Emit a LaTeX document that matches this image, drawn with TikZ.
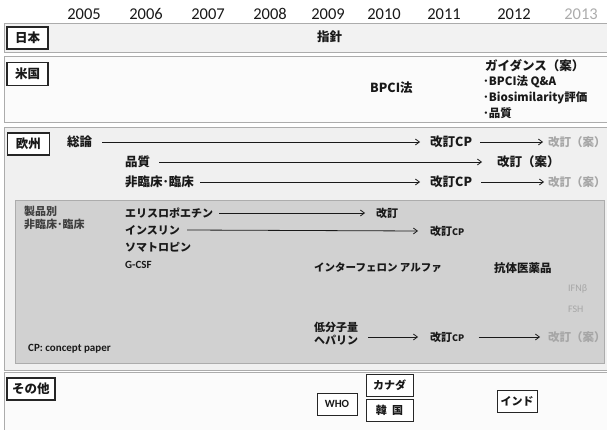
\documentclass[tikz,border=0pt]{standalone}
\usepackage{fontspec}
\setmainfont{Carlito}
\newfontfamily\jp{Noto Sans CJK JP}
\usetikzlibrary{arrows.meta}
\begin{document}
\begin{tikzpicture}[x=1pt,y=-1pt,
  band/.style={draw=gray!65, line width=0.9pt},
  yr/.style={font=\fontsize{16.5}{18}\selectfont, text=black!90, inner sep=0pt},
  jt/.style={font=\jp\bfseries\fontsize{12.5}{14}\selectfont, anchor=west, inner sep=0pt, text=black!90},
  it/.style={font=\jp\bfseries\fontsize{11}{13}\selectfont, anchor=west, inner sep=0pt, text=black!90},
  gt/.style={text=gray!70},
  lbl/.style={draw=black!85, line width=1.2pt, fill=white, inner sep=0pt,
    font=\jp\bfseries\fontsize{12.5}{14}\selectfont, text=black!90},
  arr/.style={-{Straight Barb[length=4pt,width=6pt]}, line width=0.8pt, black!90},
]
\useasboundingbox (0,0) rectangle (607,430);
\clip (0,0) rectangle (607,430);
% years
\node[yr] (y05) at (84,14) {2005};
\node[yr] (y06) at (146,14) {2006};
\node[yr] (y07) at (208,14) {2007};
\node[yr] (y08) at (270,14) {2008};
\node[yr] (y09) at (328,14) {2009};
\node[yr] (y10) at (384,14) {2010};
\node[yr] (y11) at (444,14) {2011};
\node[yr] (y12) at (514,14) {2012};
\node[yr, text=gray!65] (y13) at (581,14) {2013};
% bands
\draw[band, fill=gray!10] (4,23) rectangle (615,52);
\draw[band, fill=gray!3] (4,56) rectangle (615,122);
\draw[band, fill=gray!12] (4,127) rectangle (615,370);
\draw[band, fill=gray!36] (15,200) rectangle (604,363);
\draw[band, fill=gray!3] (4,372) rectangle (615,440);
% Japan
\node[lbl, minimum width=41pt, minimum height=22pt] (jp) at (27.5,38) {日本};
\node[jt] (shishin) at (317,37) {指針};
% US
\node[lbl, minimum width=41pt, minimum height=23pt] (us) at (27.5,74) {米国};
\node[jt] (bpci) at (370,88) {BPCI法};
\node[jt] (guid) at (485,66) {ガイダンス（案）};
\node[jt, font=\jp\bfseries\fontsize{11.5}{13}\selectfont] (g1) at (483,82) {･BPCI法 Q\&A};
\node[jt, font=\jp\bfseries\fontsize{11.5}{13}\selectfont] (g2) at (483,98) {･Biosimilarity評価};
\node[jt, font=\jp\bfseries\fontsize{11.5}{13}\selectfont] (g3) at (483,113) {･品質};
% Europe
\node[lbl, minimum width=42pt, minimum height=22pt] (eu) at (28.5,144) {欧州};
\node[jt] (soron) at (67,142) {総論};
\node[jt] (cp1) at (430,142) {改訂CP};
\node[jt, gt, font=\jp\bfseries\fontsize{11.5}{13}\selectfont] (an1) at (548,142) {改訂（案）};
\draw[arr] ([xshift=10pt]soron.east) -- ([xshift=-10pt]cp1.west);
\draw[arr] ([xshift=8pt]cp1.east) -- ([xshift=-5pt]an1.west);
\node[jt] (hin) at (125,162) {品質};
\node[jt] (an2) at (497,162) {改訂（案）};
\draw[arr] ([xshift=9pt]hin.east) -- ([xshift=-15pt]an2.west);
\node[jt] (rin) at (125,182) {非臨床･臨床};
\node[jt] (cp3) at (430,182) {改訂CP};
\node[jt, gt, font=\jp\bfseries\fontsize{11.5}{13}\selectfont] (an3) at (548,182) {改訂（案）};
\draw[arr] ([xshift=6pt]rin.east) -- ([xshift=-10pt]cp3.west);
\draw[arr] ([xshift=9pt]cp3.east) -- ([xshift=-4pt]an3.west);
% product-specific
\node[it, font=\jp\bfseries\fontsize{11}{13}\selectfont, align=left, anchor=north west, text=black!75] (seihin) at (24,206) {製品別\\非臨床･臨床};
\node[it] (epo) at (125,213) {エリスロポエチン};
\node[it] (kai) at (376,213) {改訂};
\draw[arr] ([xshift=6pt]epo.east) -- ([xshift=-11pt]kai.west);
\node[it] (ins) at (125,230) {インスリン};
\node[it] (cpi) at (430,231) {改訂\fontsize{9}{10}\selectfont CP};
\draw[arr] ([xshift=7pt]ins.east) -- ([xshift=-12pt]cpi.west);
\node[it] (soma) at (125,247) {ソマトロピン};
\node[it, font=\bfseries\fontsize{11}{13}\selectfont] (gcsf) at (125,265) {G-CSF};
\node[it, font=\jp\bfseries\fontsize{10.5}{12}\selectfont] (ifa) at (314,268) {インターフェロン アルファ};
\node[it, font=\jp\bfseries\fontsize{11.5}{13}\selectfont] (ab) at (494,268) {抗体医薬品};
\node[it, gt, font=\fontsize{10}{12}\selectfont] (ifnb) at (568,289) {IFNβ};
\node[it, gt, font=\fontsize{10}{12}\selectfont] (fsh) at (568,309) {FSH};
\node[it, align=left, anchor=north west] (hep) at (314,322) {低分子量\\ヘパリン};
\node[it] (cph) at (430,337) {改訂\fontsize{9}{10}\selectfont CP};
\node[it, gt, font=\jp\bfseries\fontsize{11.5}{13}\selectfont] (anh) at (548,337) {改訂（案）};
\draw[arr] ([xshift=10pt]hep.east|-cph.west) -- ([xshift=-12pt]cph.west);
\draw[arr] ([xshift=14pt]cph.east) -- ([xshift=-8pt]anh.west);
\node[it, font=\bfseries\fontsize{11}{13}\selectfont] (cpnote) at (28,349) {CP: concept paper};
% others
\node[lbl, minimum width=48pt, minimum height=22pt] (oth) at (31,389) {その他};
\node[lbl, line width=0.9pt, minimum width=40pt, minimum height=22pt, font=\bfseries\fontsize{11}{13}\selectfont] (who) at (337,404) {WHO};
\node[lbl, line width=0.9pt, minimum width=47pt, minimum height=22pt, font=\jp\bfseries\fontsize{11}{13}\selectfont] (can) at (389.5,385) {カナダ};
\node[lbl, line width=0.9pt, minimum width=47pt, minimum height=22pt, font=\jp\bfseries\fontsize{11}{13}\selectfont] (kor) at (389.5,410) {韓\ \ 国};
\node[lbl, line width=0.9pt, minimum width=40pt, minimum height=22pt, font=\jp\bfseries\fontsize{11}{13}\selectfont] (ind) at (517,401) {インド};
\end{tikzpicture}
\end{document}
